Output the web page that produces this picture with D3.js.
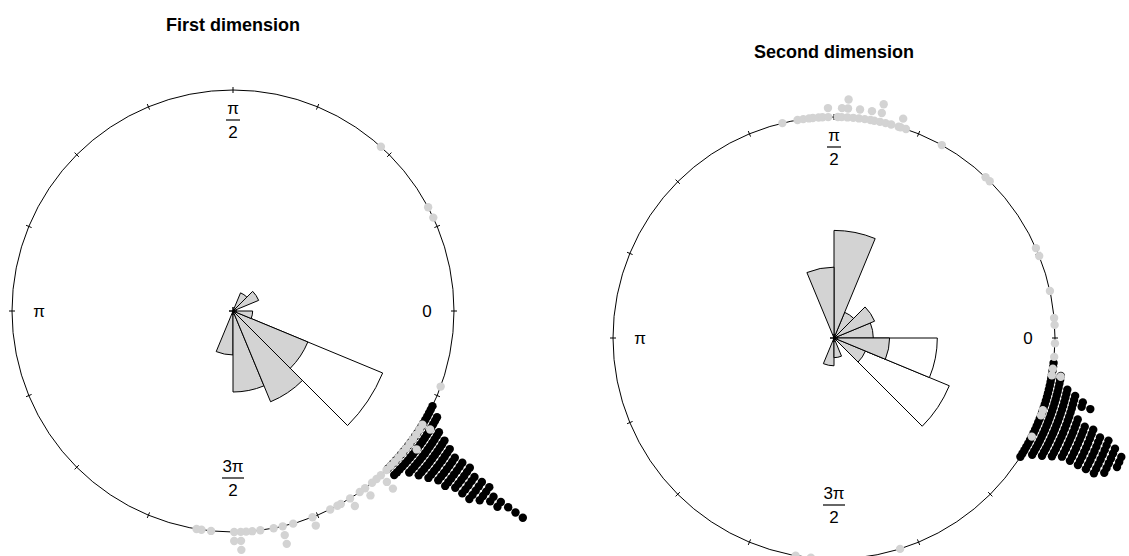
<!DOCTYPE html>
<html>
<head>
<meta charset="utf-8">
<script src="https://cdn.jsdelivr.net/npm/d3@7"></script>
<style>
  body { margin: 0; background: #fff; }
  svg { display: block; }
  text { font-family: "Liberation Sans", Arial, Helvetica, sans-serif; fill: #000; }
</style>
</head>
<body>
<div id="chart"></div>
<script>
// ---- data (angles in degrees, counter-clockwise from 0) ----

// rose bins are 16 sectors of 22.5 degrees starting at 0
const roseBinStarts = d3.range(0, 360, 22.5);

// first dimension
const firstGreyRose  = [0, 2, 1, 0, 0, 0, 0, 0, 0, 0, 0, 5, 17, 25, 17, 1];
const firstBlackRose = [0, 0, 0, 0, 0, 0, 0, 0, 0, 0, 0, 0, 0, 0, 114, 0];

const firstBlackAngles = [-25.5, -26.5, -27.5, -28.5, -29.5, -30.5, -31.5, -32.5, -33.5, -34.5, -35.5,
                          -36.5, -37.5, -38.5, -39.5, -40.5, -41.5, -42.5, -43.5, -44.5, -45.5];
const firstBlackCounts = [1, 1, 2, 2, 2, 3, 4, 5, 8, 11, 16, 13, 11, 10, 7, 5, 4, 3, 2, 2, 2];

const firstGreyAngles = [48, 28, 25, -20, -31, -32.5, -34, -35.5, -37, -38.5, -40, -41.5, -43, -44.5, -46,
                         -48, -49.5, -51, -53.3, -55, -58, -60.8, -61.8, -63.9, -68.9, -74.2, -77, -79.4,
                         -82.9, -85, -86.6, -88, -89.7, -95.7, -98.2, -99.5];
const firstGreyCounts = [1, 1, 1, 1, 2, 1, 1, 1, 2, 1, 1, 1, 1, 1, 1,
                         3, 1, 1, 2, 1, 2, 1, 1, 1, 2, 1, 3, 1,
                         1, 1, 1, 3, 2, 1, 1, 1];

// second dimension
const secondGreyRose  = [4, 5, 2, 30, 13, 0, 0, 0, 0, 0, 0, 2, 1, 0, 3, 8];
const secondBlackRose = [0, 0, 0, 0, 0, 0, 0, 0, 0, 0, 0, 0, 0, 0, 54, 37];

const secondBlackAngles = [-6.5, -7.5, -8.5, -9.5, -10.5, -11.5, -12.5, -13.5, -14.5, -15.5, -16.5, -17.5,
                           -18.5, -19.5, -20.5, -21.5, -22.5, -23.5, -24.5, -25.5, -26.5, -27.5, -28.5,
                           -29.5, -30.5, -31.5, -32.5];
const secondBlackCounts = [1, 1, 1, 2, 2, 2, 3, 4, 5, 6, 4, 4,
                           5, 7, 9, 10, 11, 11, 11, 10, 10, 9, 4,
                           3, 2, 1, 1];

const secondGreyAngles = [103.5, 99.5, 98, 96.5, 95.5, 94, 93, 91.5, 89, 88, 86.5, 85, 83.5, 82, 80.5, 79.5,
                          78, 76.5, 75, 73, 72.5, 71, 60.8, 46.7, 45.2, 24, 21.8, 12.3, 5.2, 3.4,
                          -1.4, -4.9, -8, -9.7, -19.1, -20.5, -26.5, -72.6, -96, -100];
const secondGreyCounts = [1, 1, 1, 1, 1, 1, 1, 2, 1, 2, 3, 1, 2, 1, 2, 1,
                          3, 1, 1, 1, 2, 1, 1, 1, 1, 1, 1, 1, 1, 1,
                          1, 1, 1, 2, 1, 1, 1, 1, 1, 1];

const axisLabels = [
  { angle: 0,   top: "0" },
  { angle: 90,  top: "π", bottom: "2" },
  { angle: 180, top: "π" },
  { angle: 270, top: "3π", bottom: "2" }
];

const panelTitles = ["First dimension", "Second dimension"];

// ---- layout ----
const width = 1129;
const height = 556;
const radius = 221;
const roseMax = 162;
const grey = "#d3d3d3";

const svg = d3.select("#chart").append("svg")
    .attr("width", width)
    .attr("height", height);

const panels = [
  { title: panelTitles[0], cx: 233, cy: 311,
    greyRose: firstGreyRose, blackRose: firstBlackRose,
    black: firstBlackAngles.map((a, i) => ({ angle: a, count: firstBlackCounts[i] })),
    greyPts: firstGreyAngles.map((a, i) => ({ angle: a, count: firstGreyCounts[i] })) },
  { title: panelTitles[1], cx: 834, cy: 338,
    greyRose: secondGreyRose, blackRose: secondBlackRose,
    black: secondBlackAngles.map((a, i) => ({ angle: a, count: secondBlackCounts[i] })),
    greyPts: secondGreyAngles.map((a, i) => ({ angle: a, count: secondGreyCounts[i] })) }
];

const rad = d => d * Math.PI / 180;

// stacked points: level 0 sits on the circle, each next one a step further out
const stackScale = d3.scaleLinear().domain([0, 1]).range([radius, radius + 9]);
// rose radius is proportional to sqrt of the bin share
const roseScale = d3.scaleSqrt().domain([0, 1]).range([0, roseMax]);

const arc = d3.arc().innerRadius(0);

function expand(pts) {
  const out = [];
  pts.forEach(p => {
    for (let k = 0; k < p.count; k++) out.push({ angle: p.angle, level: k });
  });
  return out;
}

function drawPanel(p) {
  const g = svg.append("g").attr("transform", `translate(${p.cx},${p.cy})`);

  g.append("text")
    .attr("x", 0)
    .attr("y", -radius - 59)
    .attr("text-anchor", "middle")
    .style("font-size", "18px")
    .style("font-weight", "bold")
    .text(p.title);

  g.append("circle")
    .attr("r", radius)
    .attr("fill", "none")
    .attr("stroke", "#000")
    .attr("stroke-width", 1);

  // ticks every 22.5 degrees
  g.selectAll("line.tick")
    .data(roseBinStarts)
    .enter().append("line")
    .attr("class", "tick")
    .attr("x1", d => (radius - 3) * Math.cos(rad(d)))
    .attr("y1", d => -(radius - 3) * Math.sin(rad(d)))
    .attr("x2", d => (radius + 3) * Math.cos(rad(d)))
    .attr("y2", d => -(radius + 3) * Math.sin(rad(d)))
    .attr("stroke", "#000")
    .attr("stroke-width", 1);

  // axis labels
  const lab = g.selectAll("g.lab")
    .data(axisLabels)
    .enter().append("g")
    .attr("class", "lab")
    .attr("transform", d => {
      const r = d.angle === 270 ? 167 : (d.angle === 90 ? 191 : 194);
      return `translate(${r * Math.cos(rad(d.angle))},${-r * Math.sin(rad(d.angle))})`;
    });
  lab.each(function (d) {
    const s = d3.select(this);
    if (d.bottom) {
      s.append("text").attr("y", -6).attr("text-anchor", "middle")
        .style("font-size", "17px").text(d.top);
      const w = d.top.length > 1 ? 22 : 14;
      s.append("line").attr("x1", -w / 2).attr("x2", w / 2).attr("y1", 0).attr("y2", 0)
        .attr("stroke", "#000").attr("stroke-width", 1.2);
      s.append("text").attr("y", 18).attr("text-anchor", "middle")
        .style("font-size", "17px").text(d.bottom);
    } else {
      s.append("text").attr("y", 6).attr("text-anchor", "middle")
        .style("font-size", "17px").text(d.top);
    }
  });

  // rose diagrams: black-data rose (white) first, grey-data rose on top
  [[p.blackRose, "#fff"], [p.greyRose, grey]].forEach(([counts, fill]) => {
    const total = d3.sum(counts);
    g.append("g").selectAll("path")
      .data(counts.map((c, i) => ({ c, start: roseBinStarts[i] })).filter(d => d.c > 0))
      .enter().append("path")
      .attr("d", d => arc({
        outerRadius: roseScale(d.c / total),
        startAngle: Math.PI / 2 - rad(d.start + 22.5),
        endAngle: Math.PI / 2 - rad(d.start)
      }))
      .attr("fill", fill)
      .attr("stroke", "#000")
      .attr("stroke-width", 1);
  });

  // centre mark
  g.append("path")
    .attr("d", "M-4,0H4M0,-4V4")
    .attr("stroke", "#000")
    .attr("stroke-width", 1.5);

  // stacked points: black first, grey over them
  [[p.black, "#000"], [p.greyPts, grey]].forEach(([pts, col]) => {
    g.append("g").selectAll("circle")
      .data(expand(pts))
      .enter().append("circle")
      .attr("cx", d => stackScale(d.level) * Math.cos(rad(d.angle)))
      .attr("cy", d => -stackScale(d.level) * Math.sin(rad(d.angle)))
      .attr("r", 4.2)
      .attr("fill", col);
  });
}

panels.forEach(drawPanel);
</script>
</body>
</html>
